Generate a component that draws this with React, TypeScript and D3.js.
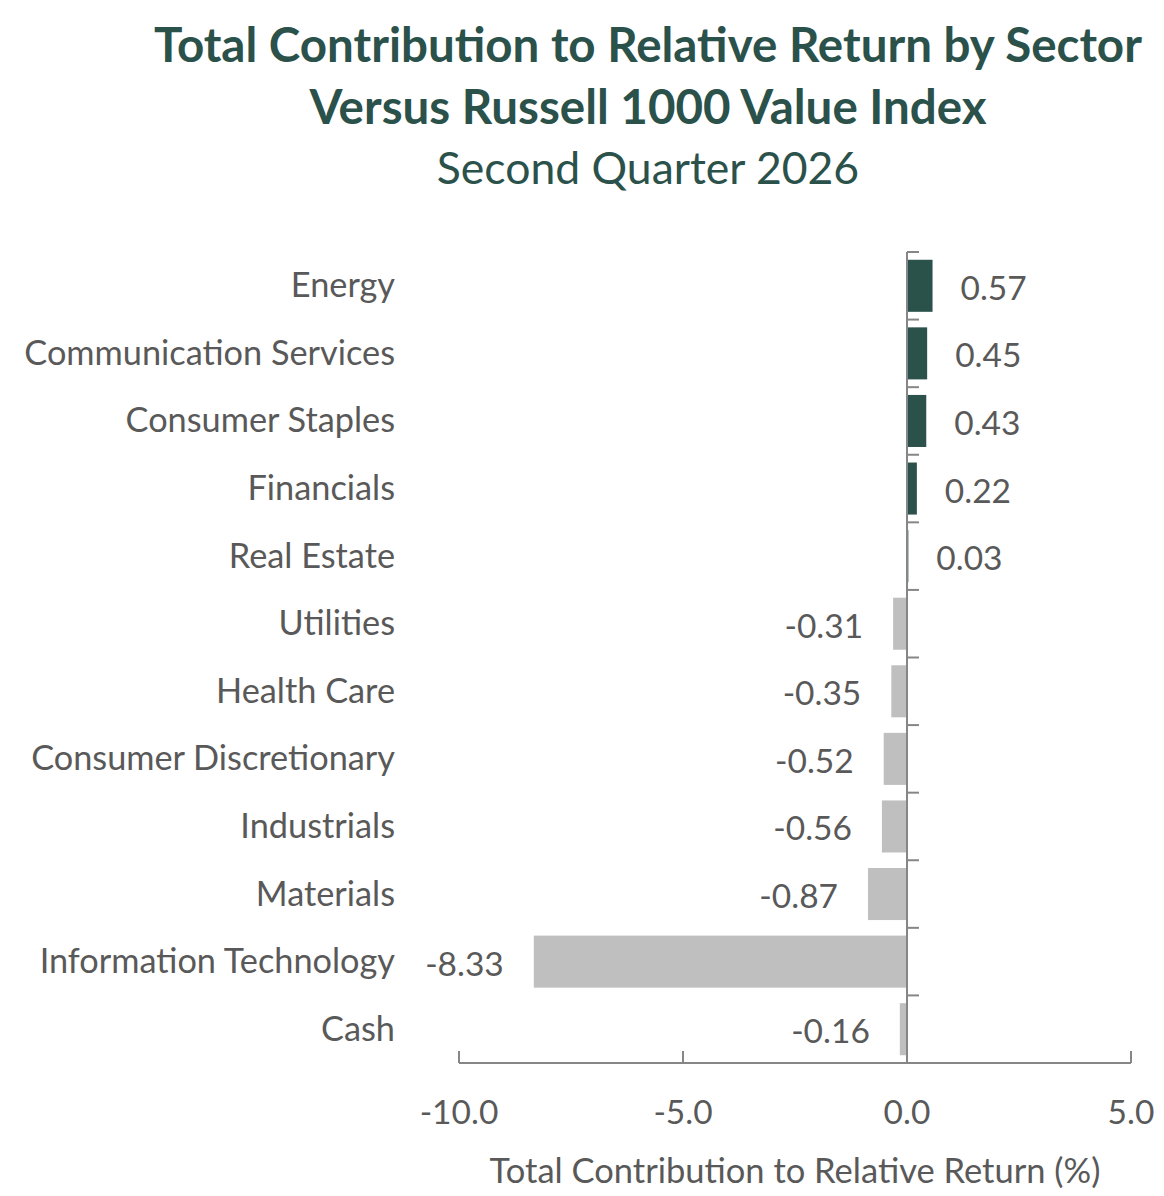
import * as d3 from 'd3';

const sectors = [
  'Energy',
  'Communication Services',
  'Consumer Staples',
  'Financials',
  'Real Estate',
  'Utilities',
  'Health Care',
  'Consumer Discretionary',
  'Industrials',
  'Materials',
  'Information Technology',
  'Cash',
];

const contributions = [0.57, 0.45, 0.43, 0.22, 0.03, -0.31, -0.35, -0.52, -0.56, -0.87, -8.33, -0.16];

const xTicks = [-10, -5, 0, 5];

const titleLines = [
  'Total Contribution to Relative Return by Sector',
  'Versus Russell 1000 Value Index',
];
const subtitle = 'Second Quarter 2026';
const xAxisTitle = 'Total Contribution to Relative Return (%)';

const W = 1164;
const H = 1196;
const FONT = 'Lato, "Open Sans", sans-serif';
const TEXT = '#595959';
const AXIS = '#868686';
const GREEN = '#2b514b';
const GREY = '#bfbfbf';

export default function App() {
  const x = d3.scaleLinear().domain([-10, 5]).range([459, 1131]);
  const y = d3.scaleBand<string>().domain(sectors).range([252, 1063]);
  const step = y.step();
  const barH = step * 0.77;
  const x0 = x(0);
  const axisY = y.range()[1];

  return (
    <svg width={W} height={H} style={{ display: 'block', margin: -8 }} fontFamily={FONT}>
      <rect width={W} height={H} fill="#fff" />
      {titleLines.map((t, i) => (
        <text key={t} x={648} y={43 + i * 62} textAnchor="middle" dominantBaseline="central"
          fontSize={47.5} fontWeight={700} fill={GREEN}>{t}</text>
      ))}
      <text x={648} y={166} textAnchor="middle" dominantBaseline="central" fontSize={44.5} fill={GREEN}>{subtitle}</text>

      {/* bars */}
      {sectors.map((s, i) => {
        const v = contributions[i];
        const by = (y(s) || 0) + (step - barH) / 2;
        return (
          <rect key={s} x={Math.min(x(v), x0)} y={by} width={Math.abs(x(v) - x0)} height={barH}
            fill={v >= 0 ? GREEN : GREY} />
        );
      })}

      {/* category labels */}
      {sectors.map((s) => (
        <text key={s} x={395} y={(y(s) || 0) + step / 2 - 2} textAnchor="end" dominantBaseline="central"
          fontSize={34.3} fill={TEXT}>{s}</text>
      ))}

      {/* value labels */}
      {sectors.map((s, i) => {
        const v = contributions[i];
        return (
          <text key={s} x={v >= 0 ? x(v) + 28 : x(v) - 30} y={(y(s) || 0) + step / 2 + 1}
            textAnchor={v >= 0 ? 'start' : 'end'} dominantBaseline="central" fontSize={33.5} fill={TEXT}>
            {v.toFixed(2)}
          </text>
        );
      })}

      {/* vertical axis at zero */}
      <line x1={x0} x2={x0} y1={y.range()[0]} y2={axisY} stroke={AXIS} strokeWidth={2} />
      {sectors.map((s) => (
        <line key={s} x1={x0} x2={x0 + 12} y1={y(s)} y2={y(s)} stroke={AXIS} strokeWidth={2} />
      ))}

      {/* horizontal axis */}
      <line x1={x(-10)} x2={x(5)} y1={axisY} y2={axisY} stroke={AXIS} strokeWidth={2} />
      {xTicks.map((t) => (
        <g key={t}>
          <line x1={x(t)} x2={x(t)} y1={axisY} y2={axisY - 12} stroke={AXIS} strokeWidth={2} />
          <text x={x(t)} y={1111} textAnchor="middle" dominantBaseline="central" fontSize={33.5} fill={TEXT}>
            {t.toFixed(1)}
          </text>
        </g>
      ))}
      <text x={(x(-10) + x(5)) / 2} y={1169} textAnchor="middle" dominantBaseline="central" fontSize={34.5} fill={TEXT}>
        {xAxisTitle}
      </text>
    </svg>
  );
}
